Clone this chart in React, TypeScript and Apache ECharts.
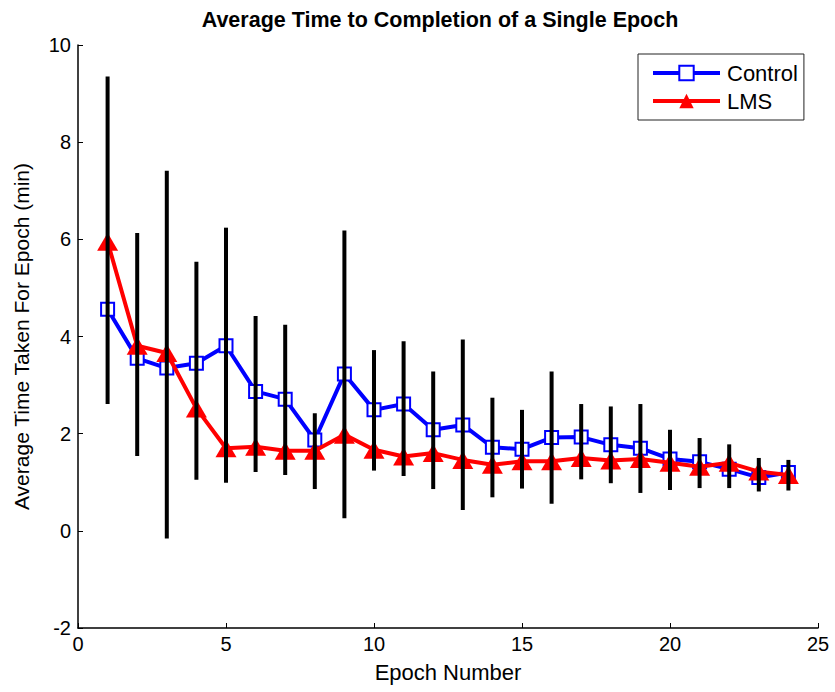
import React, { useEffect, useRef } from "react";
import * as echarts from "echarts";

const epochs = [1, 2, 3, 4, 5, 6, 7, 8, 9, 10, 11, 12, 13, 14, 15, 16, 17, 18, 19, 20, 21, 22, 23, 24];
const controlValues = [4.56, 3.55, 3.35, 3.45, 3.81, 2.87, 2.71, 1.87, 3.23, 2.49, 2.61, 2.08, 2.18, 1.72, 1.68, 1.92, 1.93, 1.77, 1.70, 1.48, 1.42, 1.27, 1.10, 1.20];
const lmsValues = [5.95, 3.81, 3.66, 2.52, 1.70, 1.73, 1.65, 1.65, 1.98, 1.67, 1.53, 1.60, 1.46, 1.36, 1.43, 1.43, 1.50, 1.45, 1.48, 1.40, 1.32, 1.40, 1.22, 1.15];
const errorLow = [2.61, 1.54, -0.16, 1.05, 0.99, 1.21, 1.15, 0.86, 0.26, 1.24, 1.13, 0.86, 0.43, 0.69, 0.87, 0.56, 1.06, 0.98, 0.78, 0.84, 0.88, 0.88, 0.81, 0.83];
const errorHigh = [9.35, 6.13, 7.41, 5.54, 6.24, 4.42, 4.24, 2.42, 6.18, 3.72, 3.90, 3.28, 3.94, 2.74, 2.49, 3.28, 2.61, 2.56, 2.61, 2.08, 1.91, 1.78, 1.50, 1.46];

const FONT = "'Liberation Sans', Arial, Helvetica, sans-serif";

export default function App() {
  const ref = useRef<HTMLDivElement>(null);
  useEffect(() => {
    if (!ref.current) return;
    const chart = echarts.init(ref.current, null, { renderer: "svg" });
    const controlData = epochs.map((e, i) => [e, controlValues[i]]);
    const lmsData = epochs.map((e, i) => [e, lmsValues[i]]);
    const errData = epochs.map((e, i) => [e, errorLow[i], errorHigh[i]]);
    chart.setOption({
      animation: false,
      backgroundColor: "#fff",
      textStyle: { fontFamily: FONT },
      title: {
        text: "Average Time to Completion of a Single Epoch",
        left: 435,
        top: 4,
        textAlign: "center",
        textStyle: { fontFamily: FONT, fontWeight: "bold", fontSize: 21.5, color: "#000" },
      },
      legend: {
        data: ["Control", "LMS"],
        orient: "vertical",
        left: 638,
        top: 54,
        padding: [8, 6, 8, 13],
        itemWidth: 67,
        itemHeight: 18,
        itemGap: 6,
        borderColor: "#222",
        borderWidth: 1,
        backgroundColor: "#fff",
        lineStyle: { width: 4 },
        textStyle: { fontFamily: FONT, fontSize: 22, color: "#000", padding: [0, 0, 0, 2] },
      },
      grid: { left: 78, top: 45, width: 740, height: 583, containLabel: false },
      xAxis: {
        type: "value",
        min: 0,
        max: 25,
        interval: 5,
        name: "Epoch Number",
        nameLocation: "middle",
        nameGap: 33,
        nameTextStyle: { fontFamily: FONT, fontSize: 22, color: "#000" },
        axisLine: { onZero: false, lineStyle: { color: "#000", width: 1.5 } },
        axisTick: { inside: true, length: 5, lineStyle: { color: "#000" } },
        axisLabel: { fontFamily: FONT, fontSize: 20, color: "#000", margin: 6 },
        splitLine: { show: false },
      },
      yAxis: {
        type: "value",
        min: -2,
        max: 10,
        interval: 2,
        name: "Average Time Taken For Epoch (min)",
        nameLocation: "middle",
        nameGap: 46,
        nameTextStyle: { fontFamily: FONT, fontSize: 21, color: "#000" },
        axisLine: { onZero: false, lineStyle: { color: "#000", width: 1.5 } },
        axisTick: { inside: true, length: 5, lineStyle: { color: "#000" } },
        axisLabel: { fontFamily: FONT, fontSize: 20, color: "#000", margin: 7 },
        splitLine: { show: false },
      },
      series: [
        {
          name: "Control",
          type: "line",
          data: controlData,
          color: "#0000ff",
          lineStyle: { color: "#0000ff", width: 4 },
          symbol: "emptyRect",
          symbolSize: 13,
          itemStyle: { color: "#0000ff", borderColor: "#0000ff", borderWidth: 3.5 },
          z: 2,
        },
        {
          name: "LMS",
          type: "line",
          data: lmsData,
          color: "#ff0000",
          lineStyle: { color: "#ff0000", width: 4 },
          symbol: "triangle",
          symbolSize: [21, 18],
          itemStyle: { color: "#ff0000" },
          z: 3,
        },
        {
          name: "Error",
          type: "custom",
          data: errData,
          encode: { x: 0, y: [1, 2] },
          z: 4,
          renderItem: (params: any, api: any) => {
            const x = api.value(0);
            const p1 = api.coord([x, api.value(1)]);
            const p2 = api.coord([x, api.value(2)]);
            return {
              type: "line",
              shape: { x1: p1[0], y1: p1[1], x2: p2[0], y2: p2[1] },
              style: { stroke: "#000", lineWidth: 4 },
            };
          },
        },
      ],
    });
    return () => chart.dispose();
  }, []);
  return <div ref={ref} style={{ width: 835, height: 692, position: "absolute", left: 0, top: 0 }} />;
}
